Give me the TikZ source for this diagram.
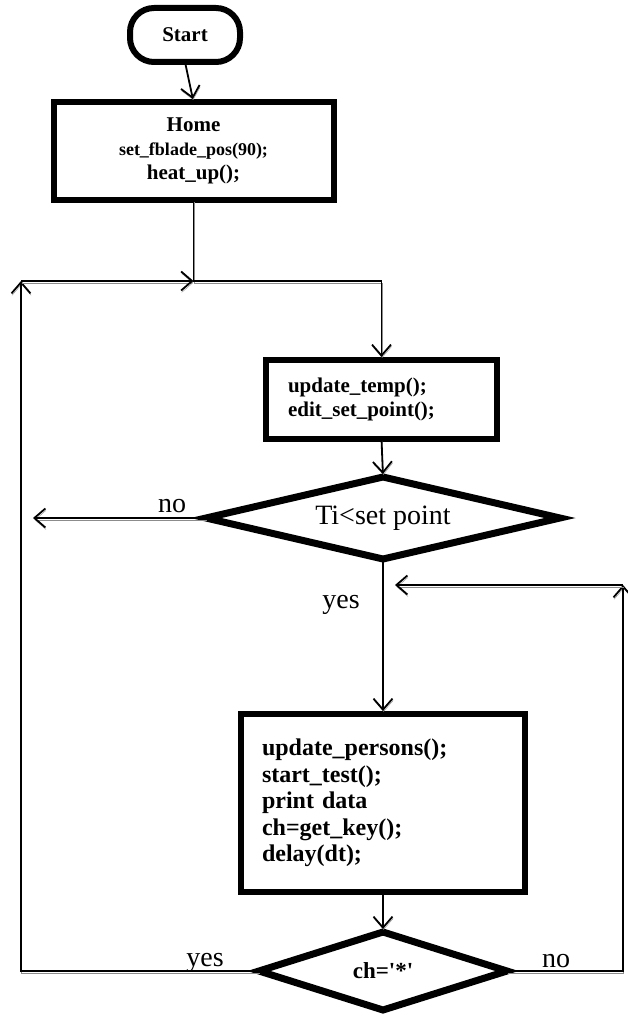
\documentclass[tikz,border=0pt]{standalone}
\usepackage{fontspec}
\setmainfont{Liberation Serif}
\usetikzlibrary{shapes.geometric,arrows.meta}
\begin{document}
\begin{tikzpicture}[x=1pt,y=-1pt,
  every node/.style={outer sep=0pt},
  block/.style={draw,line width=6pt,rectangle,inner ysep=0pt},
  decision/.style={draw,line width=7pt,shape=diamond,inner sep=0pt,line join=miter},
  terminal/.style={draw,line width=6pt,rounded corners=24pt,
    minimum width=110pt,minimum height=54pt},
  conn/.style={line width=1.8pt,-{Straight Barb[length=11pt,width=19pt]},
    preaction={draw=black!45,transform canvas={shift={(0.6pt,-1.9pt)}}}},
  tonode/.style={shorten >=3pt},
  lbl/.style={font=\fontsize{28}{30}\selectfont,inner sep=0pt,anchor=base}
]
\useasboundingbox (0,0) rectangle (627,1016);

% process steps
\node[terminal,font=\fontsize{21}{24}\selectfont\bfseries] (start) at (185,35) {Start};
\node[block,minimum width=280pt,minimum height=98pt,align=center,
      font=\fontsize{21}{24}\selectfont\bfseries] (home) at (193.5,151)
  {Home\\{\fontsize{18}{24}\selectfont set\_fblade\_pos(90);}\\heat\_up();};
\node[block,minimum width=231pt,minimum height=79pt,text width=187pt,inner xsep=22pt,
      align=left,font=\fontsize{21}{24}\selectfont\bfseries] (temp) at (381.5,399.5)
  {update\_temp();\\edit\_set\_point();};
\node[decision,minimum width=354pt,minimum height=82pt,aspect=4.2,
      font=\fontsize{28}{30}\selectfont] (dec1) at (383,518) {Ti<set point};
\node[block,minimum width=284pt,minimum height=178pt,text width=242pt,inner xsep=21pt,
      align=left,font=\fontsize{24}{26.5}\selectfont\bfseries] (proc) at (383,803)
  {update\_persons();\\start\_test();\\print data\\ch=get\_key();\\delay(dt);};
\node[decision,minimum width=248pt,minimum height=78pt,aspect=3,
      font=\fontsize{23}{25}\selectfont\bfseries] (dec2) at (383,971)
  {ch=\textquotesingle*\textquotesingle};

% loop corners and free ends
\coordinate (join) at (193.5,281);
\coordinate (lcorner) at (21,281);
\coordinate (rcorner) at (623,585);
\coordinate (loopin) at (395,585);
\coordinate (noend) at (33,518);

% connectors
\draw[conn,tonode] (start.south) -- (home.north);
\draw[conn,tonode] (home.south) -- (join) -| (temp.north);
\draw[conn] (dec2.west) -| (lcorner);
\draw[conn] (lcorner) -- (join);
\draw[conn,tonode] (temp.south) -- (dec1.north);
\draw[conn] (dec1.west) -- (noend);
\draw[conn,tonode] (dec1.south) -- (proc.north);
\draw[conn,tonode] (proc.south) -- (dec2.north);
\draw[conn] (dec2.east) -| (rcorner);
\draw[conn] (rcorner) -- (loopin);

% branch labels
\node[lbl] (no1) at (172,512) {no};
\node[lbl] (yes1) at (341,608) {yes};
\node[lbl] (yes2) at (205,966) {yes};
\node[lbl] (no2) at (556,967) {no};
\end{tikzpicture}
\end{document}
